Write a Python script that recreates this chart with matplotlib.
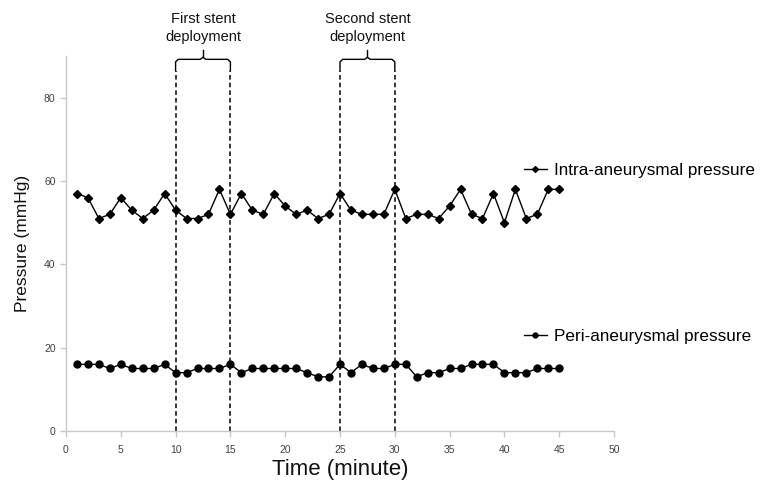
import matplotlib
matplotlib.use("Agg")
import matplotlib.pyplot as plt
from matplotlib.lines import Line2D

plt.rcParams["font.family"] = ["Liberation Sans", "DejaVu Sans"]

# data
minutes = list(range(1, 46))
intra = [57, 56, 51, 52, 56, 53, 51, 53, 57, 53, 51, 51, 52, 58, 52,
         57, 53, 52, 57, 54, 52, 53, 51, 52, 57, 53, 52, 52, 52, 58,
         51, 52, 52, 51, 54, 58, 52, 51, 57, 50, 58, 51, 52, 58, 58]
peri = [16, 16, 16, 15, 16, 15, 15, 15, 16, 14, 14, 15, 15, 15, 16,
        14, 15, 15, 15, 15, 15, 14, 13, 13, 16, 14, 16, 15, 15, 16,
        16, 13, 14, 14, 15, 15, 16, 16, 16, 14, 14, 14, 15, 15, 15]
deployments = [("First stent\ndeployment", 10, 15),
               ("Second stent\ndeployment", 25, 30)]
xticks = list(range(0, 51, 5))
yticks = [0, 20, 40, 60, 80]

fig = plt.figure(figsize=(7.62, 4.87), dpi=100)
ax = fig.add_axes([0.0866, 0.115, 0.7192, 0.77])

ax.plot(minutes, intra, color="black", lw=1.0, marker="D", ms=4.5,
        clip_on=False, zorder=3)
ax.plot(minutes, peri, color="black", lw=1.0, marker="o", ms=5,
        clip_on=False, zorder=3)

# dashed deployment markers with curly brackets above
line_top = 86.5
for label, a, b in deployments:
    for xv in (a, b):
        ax.plot([xv, xv], [0, line_top], color="black", lw=1.1,
                ls=(0, (3, 2)), zorder=2, clip_on=False)
    m = (a + b) / 2
    bx = [a, a, a + 0.25, m - 0.25, m, m + 0.25, b - 0.25, b, b]
    by = [line_top, 88.6, 89.2, 89.2, 89.7, 89.2, 89.2, 88.6, line_top]
    ax.plot(bx, by, color="black", lw=1.0, clip_on=False)
    ax.plot([m, m], [89.7, 91.5], color="black", lw=1.0, clip_on=False)
    ax.text(m, 92.8, label, ha="center", va="bottom", fontsize=10.5,
            linespacing=1.4, color="#111111", clip_on=False)

ax.set_xlim(0, 50)
ax.set_ylim(0, 90)
ax.set_xticks(xticks)
ax.set_yticks(yticks)
for s in ("top", "right"):
    ax.spines[s].set_visible(False)
for s in ("left", "bottom"):
    ax.spines[s].set_color("#c8c8c8")
    ax.spines[s].set_linewidth(1.0)
ax.tick_params(axis="both", colors="#c8c8c8", labelcolor="#404040",
               labelsize=7.5, length=4, width=1.0)
ax.tick_params(axis="x", pad=6)

ax.set_xlabel("Time (minute)", fontsize=16, labelpad=3, color="#111111")
ax.set_ylabel("Pressure (mmHg)", fontsize=12.5, labelpad=10, color="#111111")

# series labels on the right
h_intra = Line2D([], [], color="black", lw=1.0, marker="D", ms=3)
h_peri = Line2D([], [], color="black", lw=1.0, marker="o", ms=3.5)
leg_kw = dict(frameon=False, loc="center left", fontsize=12.3,
              handlelength=1.32, handletextpad=0.4, borderaxespad=0,
              borderpad=0)
leg1 = ax.legend([h_intra], ["Intra-aneurysmal pressure"],
                 bbox_to_anchor=(0.836, 0.695), **leg_kw)
ax.add_artist(leg1)
ax.legend([h_peri], ["Peri-aneurysmal pressure"],
          bbox_to_anchor=(0.836, 0.253), **leg_kw)

fig.savefig("out.png", dpi=100)
